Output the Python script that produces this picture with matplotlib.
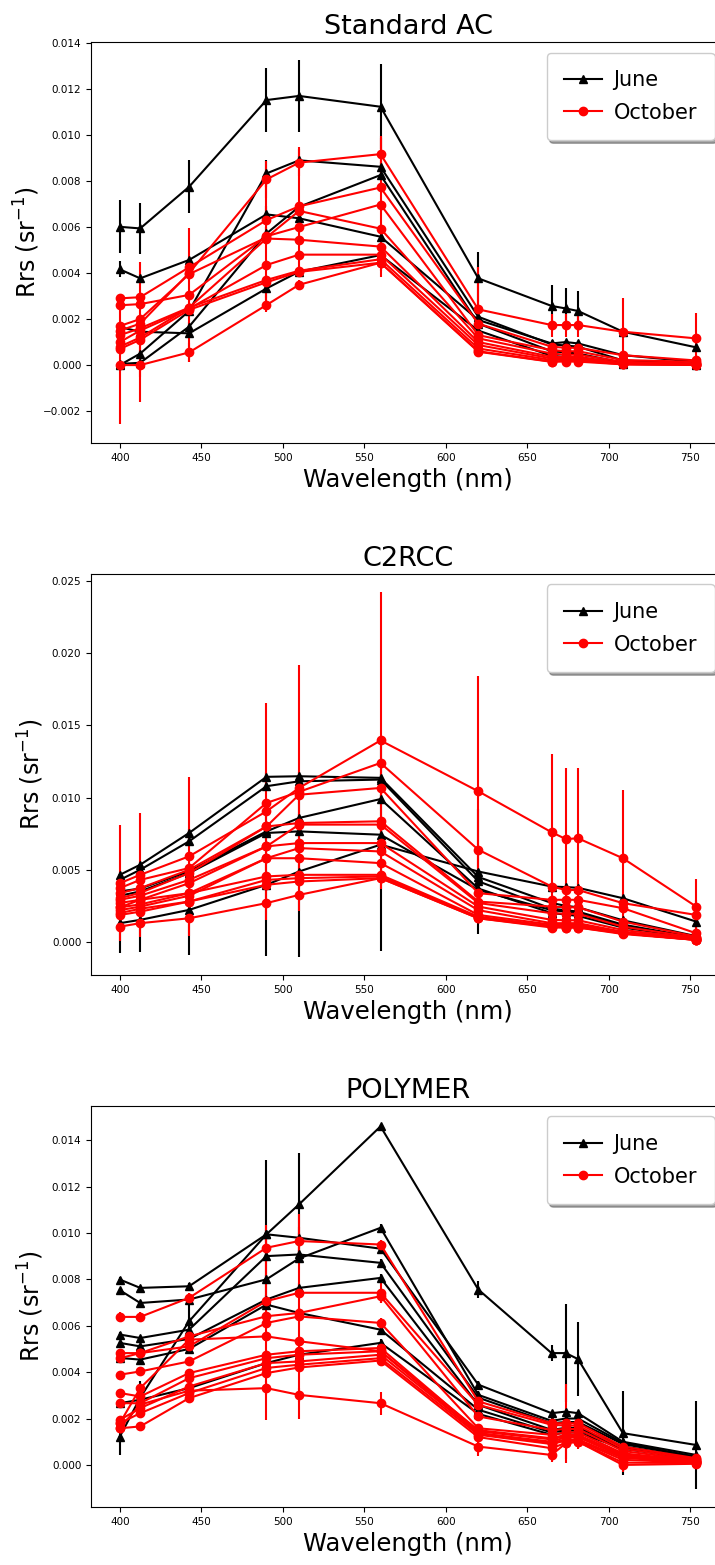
import numpy as np
import matplotlib
matplotlib.use('Agg')
import matplotlib.pyplot as plt
from matplotlib.lines import Line2D
from matplotlib.ticker import MultipleLocator

# OLCI band centres (nm)
wl = [400, 412.5, 442.5, 490, 510, 560, 620, 665, 673.75, 681.25, 708.75, 753.75]

# Rrs values in units of 1e-3 sr^-1, one list per station
# ---- Standard AC ----
std_june = [
    [6.01, 5.94, 7.75, 11.52, 11.70, 11.23, 3.77, 2.57, 2.46, 2.35, 1.45, 0.77],
    [4.16, 3.77, 4.57, 6.55, 6.38, 5.58, 1.96, 0.94, 1.00, 0.94, 0.43, 0.14],
    [0.00, 0.50, 2.35, 8.33, 8.90, 8.62, 2.10, 0.90, 0.85, 0.80, 0.20, 0.05],
    [0.05, 0.10, 1.67, 5.72, 6.88, 8.26, 1.80, 0.60, 0.55, 0.50, 0.10, 0.03],
    [1.65, 1.45, 1.38, 3.33, 4.06, 4.78, 1.50, 0.40, 0.35, 0.35, 0.05, 0.02],
]
std_june_err = [
    [1.15, 1.10, 1.15, 1.40, 1.55, 1.85, 1.15, 0.90, 0.90, 0.85, 0.10, 0.10],
    [0.35, 0.20, 0.10, 0.35, 0.20, 0.20, 0.20, 0.10, 0.10, 0.10, 0.05, 0.05],
    [0.10, 0.10, 0.20, 0.60, 0.20, 0.20, 0.20, 0.10, 0.10, 0.10, 0.05, 0.05],
    [0.10, 0.10, 0.20, 0.30, 0.20, 0.20, 0.20, 0.10, 0.10, 0.10, 0.05, 0.05],
    [0.10, 0.10, 0.20, 0.40, 0.20, 0.20, 0.20, 0.10, 0.10, 0.10, 0.05, 0.05],
]
std_oct = [
    [1.50, 1.80, 4.00, 8.07, 8.80, 9.17, 2.42, 1.74, 1.74, 1.74, 1.45, 1.16],
    [2.90, 2.95, 4.25, 6.30, 6.90, 7.72, 1.80, 0.80, 0.75, 0.75, 0.43, 0.20],
    [2.60, 2.65, 3.05, 5.60, 6.00, 6.98, 1.30, 0.65, 0.60, 0.60, 0.22, 0.14],
    [1.70, 2.00, 3.95, 5.55, 6.70, 5.93, 1.16, 0.50, 0.45, 0.45, 0.14, 0.07],
    [1.30, 1.60, 2.50, 5.50, 5.45, 5.15, 1.00, 0.36, 0.35, 0.35, 0.07, 0.03],
    [1.00, 1.50, 2.45, 4.35, 4.80, 4.80, 0.87, 0.29, 0.30, 0.30, 0.07, 0.03],
    [0.80, 1.20, 2.50, 3.70, 4.10, 4.60, 0.72, 0.22, 0.25, 0.25, 0.05, 0.02],
    [0.70, 1.10, 2.40, 3.60, 4.05, 4.45, 0.58, 0.14, 0.20, 0.20, 0.03, 0.01],
    [0.00, 0.00, 0.55, 2.61, 3.49, 4.45, 0.60, 0.15, 0.15, 0.15, 0.03, 0.01],
]
std_oct_err = [
    [0.30, 0.30, 0.30, 0.80, 0.60, 0.80, 1.85, 0.50, 0.50, 0.50, 1.45, 1.10],
    [0.10, 0.10, 0.20, 0.20, 0.20, 0.20, 0.20, 0.10, 0.10, 0.10, 0.05, 0.05],
    [0.10, 0.10, 2.90, 0.20, 0.20, 2.90, 0.20, 0.10, 0.10, 0.10, 0.05, 0.05],
    [0.10, 2.50, 0.20, 0.20, 2.80, 0.20, 0.20, 0.10, 0.10, 0.10, 0.05, 0.05],
    [0.10, 0.10, 0.20, 2.90, 0.20, 0.20, 0.20, 0.10, 0.10, 0.10, 0.05, 0.05],
    [0.10, 0.10, 0.20, 0.20, 0.20, 0.20, 0.20, 0.10, 0.10, 0.10, 0.05, 0.05],
    [0.10, 0.10, 0.20, 0.20, 0.20, 0.20, 0.20, 0.10, 0.10, 0.10, 0.05, 0.05],
    [0.10, 0.10, 0.20, 0.20, 0.20, 0.60, 0.20, 0.10, 0.10, 0.10, 0.05, 0.05],
    [2.55, 1.60, 0.40, 0.30, 0.20, 0.20, 0.20, 0.10, 0.10, 0.10, 0.05, 0.05],
]

# ---- C2RCC ----
c2_june = [
    [4.65, 5.35, 7.55, 11.44, 11.48, 11.37, 4.50, 2.70, 2.50, 2.40, 1.50, 0.40],
    [4.30, 5.00, 6.97, 10.79, 11.13, 11.25, 4.20, 2.30, 2.20, 2.10, 1.20, 0.30],
    [3.50, 3.70, 4.90, 7.66, 8.59, 9.90, 3.70, 2.00, 1.90, 1.80, 1.00, 0.25],
    [3.20, 3.50, 4.77, 7.55, 7.66, 7.43, 3.60, 2.20, 2.10, 2.00, 1.10, 0.28],
    [1.30, 1.53, 2.22, 3.96, 4.88, 6.74, 4.88, 3.84, 3.80, 3.75, 3.03, 1.41],
]
c2_june_err = [
    [0.20, 0.20, 0.30, 0.30, 0.30, 0.30, 0.20, 0.10, 0.10, 0.10, 0.10, 0.05],
    [0.20, 0.20, 0.30, 0.30, 0.30, 0.30, 0.20, 0.10, 0.10, 0.10, 0.10, 0.05],
    [0.20, 0.20, 0.30, 0.30, 0.30, 0.30, 0.20, 0.10, 0.10, 0.10, 0.10, 0.05],
    [0.20, 0.20, 0.30, 0.30, 0.30, 0.30, 0.20, 0.10, 0.10, 0.10, 0.10, 0.05],
    [2.05, 2.20, 3.10, 4.96, 5.90, 7.40, 4.30, 0.30, 0.30, 0.30, 0.30, 1.50],
]
c2_oct = [
    [4.07, 4.65, 5.93, 9.05, 10.67, 13.96, 10.44, 7.60, 7.13, 7.18, 5.80, 2.45],
    [3.73, 4.30, 5.12, 9.63, 10.40, 12.40, 6.39, 3.84, 3.60, 3.60, 2.69, 1.87],
    [3.38, 3.73, 5.00, 8.00, 10.20, 10.67, 3.38, 2.92, 2.92, 2.92, 2.34, 0.60],
    [3.03, 3.40, 4.77, 8.00, 8.24, 8.36, 2.80, 2.45, 2.40, 2.40, 1.41, 0.37],
    [2.92, 3.20, 4.30, 6.62, 8.13, 8.13, 2.70, 1.99, 1.95, 1.95, 1.06, 0.30],
    [2.70, 2.92, 4.07, 6.62, 6.85, 6.85, 2.45, 1.53, 1.50, 1.50, 0.83, 0.25],
    [2.40, 2.60, 3.38, 5.80, 6.50, 6.27, 2.20, 1.30, 1.30, 1.30, 0.70, 0.20],
    [2.20, 2.45, 3.20, 5.80, 5.80, 5.46, 1.87, 1.20, 1.20, 1.20, 0.65, 0.18],
    [2.40, 2.92, 3.38, 4.54, 4.65, 4.65, 1.75, 1.10, 1.10, 1.10, 0.60, 0.15],
    [2.00, 2.30, 2.80, 4.30, 4.42, 4.54, 1.70, 1.06, 1.05, 1.05, 0.60, 0.14],
    [1.87, 2.10, 2.80, 3.96, 4.19, 4.42, 1.64, 1.00, 1.00, 1.00, 0.55, 0.14],
    [1.06, 1.30, 1.64, 2.69, 3.26, 4.42, 1.64, 1.06, 1.00, 1.00, 0.60, 0.14],
]
c2_oct_err = [
    [4.00, 4.30, 5.50, 7.50, 8.50, 10.30, 8.00, 5.40, 4.90, 4.90, 4.70, 1.90],
] + [[0.20, 0.20, 0.20, 0.30, 0.30, 0.30, 0.20, 0.10, 0.10, 0.10, 0.10, 0.05]] * 11

# ---- POLYMER ----
pol_june = [
    [1.22, 2.90, 6.19, 9.94, 11.23, 14.59, 7.56, 4.82, 4.82, 4.56, 1.37, 0.86],
    [7.99, 7.63, 7.70, 9.94, 9.79, 9.32, 3.46, 2.23, 2.30, 2.23, 1.00, 0.43],
    [7.53, 6.98, 7.13, 8.00, 8.90, 10.22, 3.02, 1.90, 2.00, 2.00, 0.95, 0.35],
    [5.62, 5.47, 5.83, 9.00, 9.07, 8.71, 2.90, 1.80, 1.85, 1.85, 0.90, 0.35],
    [5.26, 5.11, 5.43, 7.13, 7.63, 8.06, 2.59, 1.51, 1.60, 1.60, 0.80, 0.30],
    [4.61, 4.54, 5.00, 6.91, 6.55, 5.83, 2.38, 1.40, 1.50, 1.50, 0.75, 0.28],
    [2.66, 2.81, 3.31, 4.39, 4.75, 5.26, 2.20, 1.30, 1.40, 1.40, 0.70, 0.25],
]
pol_june_err = [
    [0.80, 0.70, 0.95, 3.20, 2.20, 0.10, 0.35, 0.35, 2.10, 1.60, 1.80, 1.90],
] + [[0.10, 0.10, 0.15, 0.20, 0.20, 0.15, 0.15, 0.10, 0.10, 0.10, 0.10, 0.05]] * 6
pol_oct = [
    [6.38, 6.38, 7.20, 9.36, 9.65, 9.50, 2.74, 1.80, 1.80, 1.80, 0.79, 0.29],
    [4.82, 4.82, 5.11, 7.06, 7.42, 7.42, 2.59, 1.73, 1.70, 1.70, 0.70, 0.25],
    [4.60, 4.82, 5.54, 6.41, 6.55, 7.27, 2.09, 1.51, 1.55, 1.55, 0.60, 0.20],
    [3.89, 4.03, 4.46, 6.12, 6.40, 6.12, 1.58, 1.30, 1.40, 1.40, 0.50, 0.18],
    [1.80, 3.31, 5.40, 5.54, 5.33, 4.90, 1.50, 1.15, 1.30, 1.30, 0.45, 0.15],
    [3.10, 2.95, 3.96, 4.75, 4.90, 5.04, 1.45, 1.10, 1.25, 1.25, 0.40, 0.14],
    [2.66, 2.66, 3.74, 4.60, 4.75, 4.90, 1.37, 1.00, 1.20, 1.20, 0.35, 0.14],
    [1.94, 2.45, 3.38, 4.39, 4.46, 4.75, 1.37, 0.95, 1.10, 1.10, 0.30, 0.12],
    [1.80, 2.23, 3.10, 4.18, 4.32, 4.60, 1.30, 0.90, 1.05, 1.05, 0.22, 0.10],
    [1.58, 1.66, 2.88, 3.96, 4.20, 4.50, 1.20, 0.72, 0.95, 1.00, 0.10, 0.08],
    [1.60, 2.60, 3.20, 3.31, 3.02, 2.66, 0.79, 0.43, 0.94, 1.00, 0.00, 0.05],
]
pol_oct_err = [
    [0.20, 0.20, 0.20, 0.60, 0.60, 0.20, 0.20, 0.30, 1.70, 0.30, 0.20, 0.20],
    [0.10, 0.10, 0.15, 0.20, 0.20, 0.45, 0.15, 0.10, 0.10, 0.10, 0.10, 0.05],
    [0.10, 0.10, 0.15, 0.20, 0.20, 0.30, 0.15, 0.10, 0.10, 0.10, 0.10, 0.05],
    [0.10, 0.10, 0.15, 4.20, 4.40, 0.20, 0.15, 0.10, 0.10, 0.10, 0.10, 0.05],
] + [[0.10, 0.10, 0.15, 0.20, 0.20, 0.20, 0.15, 0.10, 0.10, 0.10, 0.10, 0.05]] * 6 + [
    [0.10, 0.20, 0.20, 0.30, 0.30, 0.50, 0.40, 0.30, 0.70, 0.30, 0.30, 0.20],
]

panels = [
    ("Standard AC", std_june, std_june_err, std_oct, std_oct_err, (-0.00339, 0.01404), 0.002),
    ("C2RCC", c2_june, c2_june_err, c2_oct, c2_oct_err, (-0.00229, 0.02549), 0.005),
    ("POLYMER", pol_june, pol_june_err, pol_oct, pol_oct_err, (-0.00181, 0.01547), 0.002),
]

fig = plt.figure(figsize=(7.15, 15.65), dpi=100)
bottoms = [0.7169, 0.3770, 0.0371]
ypads = [1.0, 4.0, 4.0]

for (title, jn, jn_e, oc, oc_e, ylim, step), b, pad in zip(panels, bottoms, ypads):
    ax = fig.add_axes([0.1273, b, 0.8867, 0.2562])
    for y, e in zip(jn, jn_e):
        ax.errorbar(wl, np.array(y) * 1e-3, yerr=np.array(e) * 1e-3,
                    fmt='-^', color='k', markersize=6, linewidth=1.5)
    for y, e in zip(oc, oc_e):
        ax.errorbar(wl, np.array(y) * 1e-3, yerr=np.array(e) * 1e-3,
                    fmt='-o', color='r', markersize=6, linewidth=1.5)
    ax.set_ylim(ylim)
    ax.yaxis.set_major_locator(MultipleLocator(step))
    ax.tick_params(labelsize=7.5)
    ax.set_title(title, fontsize=19.5)
    ax.set_xlabel("Wavelength (nm)", fontsize=17.5)
    ax.set_ylabel(r"Rrs (sr$^{-1}$)", fontsize=17, labelpad=pad)
    handles = [Line2D([], [], color='k', marker='^', markersize=6, linewidth=1.5),
               Line2D([], [], color='r', marker='o', markersize=6, linewidth=1.5)]
    ax.legend(handles, ["June", "October"], loc='upper right', shadow=True,
              handlelength=1.8, handletextpad=0.55, borderpad=0.85,
              labelspacing=0.6, fontsize=15)

fig.savefig('out.png', dpi=100)
